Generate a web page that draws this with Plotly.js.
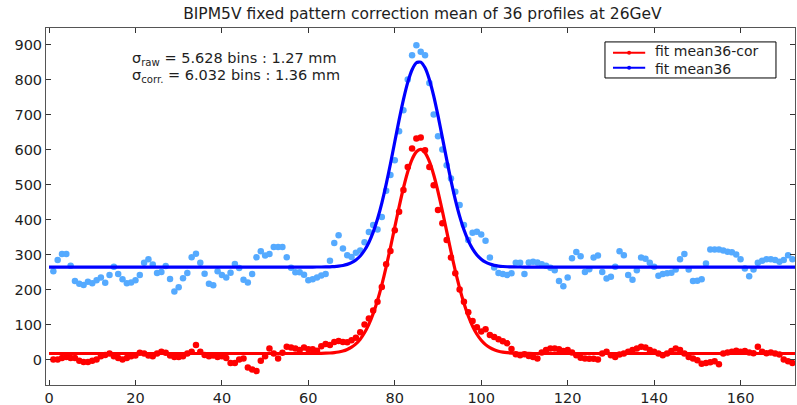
<!DOCTYPE html>
<html>
<head>
<meta charset="utf-8">
<script src="https://cdn.plot.ly/plotly-3.0.1.min.js"></script>
<style>html,body{margin:0;padding:0;background:#fff;}#chart{width:797px;height:405px;}</style>
</head>
<body>
<div id="chart"></div>
<script>
// bin numbers start at 1
const firstBin = 1;

// mean36-cor data (red dots), bins 1..172
const corData = [
  0, 0, 4, 7, 4, 4, -4, -7, -7, -4,
  0, 9, 13, 17, 9, 4, 0, 4, 9, 11,
  19, 17, 11, 9, 17, 22, 19, 11, 7, 7,
  9, 17, 22, 41, 22, 13, 9, 11, 7, 9,
  4, -10, -10, 0, 3, -23, -29, -33, -4, 9,
  31, 17, 3, 19, 36, 34, 31, 27, 34, 29,
  29, 25, 38, 44, 41, 50, 53, 50, 49, 55,
  62, 78, 100, 117, 140, 165, 207, 272, 310, 369,
  422, 484, 550, 603, 631, 634, 598, 550, 498, 427,
  389, 341, 291, 246, 200, 165, 135, 110, 92, 80,
  86, 70, 64, 58, 52, 46, 30, 15, 12, 15,
  10, 7, 3, 20, 27, 31, 31, 29, 24, 27,
  20, 12, 5, 3, 2, 2, 0, 17, 22, 12,
  7, 14, 17, 22, 27, 31, 36, 34, 27, 22,
  17, 12, 17, 24, 31, 27, 17, 7, 3, -2,
  -12, -10, -8, -5, -14, 17, 20, 22, 25, 22,
  24, 20, 18, 36, 22, 18, 20, 17, 14, 0,
  -5, -10
];

// mean36 raw data (light blue dots), bins 1..172
const rawData = [
  252, 284, 301, 301, 268, 224, 216, 213, 222, 218,
  226, 234, 219, 241, 265, 244, 229, 218, 220, 226,
  241, 276, 286, 271, 247, 250, 267, 230, 194, 206,
  232, 247, 292, 302, 276, 245, 216, 212, 252, 241,
  234, 248, 273, 261, 228, 220, 244, 292, 309, 297,
  301, 321, 321, 321, 292, 262, 249, 249, 242, 226,
  229, 234, 240, 244, 282, 333, 355, 317, 298, 293,
  305, 311, 335, 364, 384, 371, 407, 482, 527, 569,
  652, 712, 800, 869, 898, 879, 869, 790, 700, 638,
  600, 555, 517, 479, 441, 384, 341, 362, 365, 357,
  339, 291, 263, 247, 244, 241, 246, 276, 276, 244,
  277, 279, 277, 272, 268, 262, 255, 224, 209, 234,
  289, 307, 295, 250, 258, 291, 297, 250, 231, 236,
  265, 309, 298, 241, 228, 255, 291, 288, 276, 265,
  239, 244, 246, 248, 257, 286, 301, 257, 224, 225,
  229, 274, 314, 314, 314, 311, 308, 306, 300, 286,
  260, 238, 257, 276, 282, 286, 286, 284, 279, 284,
  298, 286
];

// fit curves
const fitX = [0, 58, 60, 62, 64, 65, 66, 67, 68, 69, 70, 71, 72, 73, 74, 75, 76, 77, 78, 79,
  80, 81, 82, 83, 84, 85, 86, 87, 88, 89, 90, 91, 92, 93, 94, 95, 96, 97, 98, 99,
  100, 101, 102, 103, 104, 105, 106, 107, 108, 110, 112, 114, 173];
const fitCor = [17, 17, 17, 17.2, 17.8, 18.4, 19.5, 21.3, 24.1, 28.5, 35, 44.5, 57.9, 76.2, 100.2, 130.8, 168.5, 213.2, 264.2, 319.9,
  378.2, 436.1, 489.9, 536.3, 571.8, 593.5, 600, 590.4, 565.7, 527.8, 479.7, 424.7, 366.5, 308.5, 253.5, 203.7, 160.4, 124.2, 94.9, 72.0,
  54.9, 42.4, 33.5, 27.4, 23.5, 20.9, 19.3, 18.3, 17.7, 17.2, 17, 17, 17];
const fitRaw = [264, 264, 264, 264.1, 264.4, 264.7, 265.4, 266.5, 268.4, 271.6, 276.6, 284.3, 295.7, 312, 334.3, 363.7, 401.2, 446.8, 500, 559.3,
  621.9, 684.4, 742.5, 791.7, 827.8, 847.7, 849.5, 833.2, 800, 753.1, 696.5, 634.6, 571.6, 511.4, 456.8, 409.6, 370.5, 339.5, 315.9, 298.6,
  286.3, 277.9, 272.4, 268.9, 266.8, 265.5, 264.8, 264.4, 264.2, 264, 264, 264, 264];

const legendNames = ["fit mean36-cor", "fit mean36"];
const titleText = "BIPM5V fixed pattern correction mean of 36 profiles at 26GeV";
const noteRaw = "σ<sub>raw</sub> = 5.628 bins : 1.27 mm";
const noteCor = "σ<sub>corr.</sub> = 6.032 bins : 1.36 mm";
const xTicks = [0, 20, 40, 60, 80, 100, 120, 140, 160];
const yTicks = [0, 100, 200, 300, 400, 500, 600, 700, 800, 900];

const bins = corData.map((_, i) => firstBin + i);

const FONT = "DejaVu Sans, Verdana, sans-serif";
const TXT = "#1e1e1e";
const RED = "#ff0000", BLUE = "#0000ff", LIGHTBLUE = "#55aaff";

const traces = [
  {x: bins, y: rawData, mode: "markers", type: "scatter", showlegend: false,
   marker: {color: LIGHTBLUE, size: 6.5}, hoverinfo: "skip"},
  {x: fitX, y: fitRaw, mode: "lines", type: "scatter", name: legendNames[1], showlegend: false,
   line: {color: BLUE, width: 3.2, shape: "spline", smoothing: 0.6}},
  {x: bins, y: corData, mode: "markers", type: "scatter", showlegend: false,
   marker: {color: RED, size: 6.5}, hoverinfo: "skip"},
  {x: fitX, y: fitCor, mode: "lines", type: "scatter", name: legendNames[0], showlegend: false,
   line: {color: RED, width: 3.2, shape: "spline", smoothing: 0.6}}
];

const axisCommon = {
  showline: true, linecolor: "#555", linewidth: 1, mirror: "ticks",
  ticks: "inside", ticklen: 5, tickcolor: "#333", tickwidth: 1,
  showgrid: false, zeroline: false,
  tickfont: {family: FONT, size: 14.5, color: TXT}
};

// manual legend box (paper coordinates of plot area)
const LX0 = 0.7463, LX1 = 0.9746, LY0 = 0.860, LY1 = 0.961;
const LS0 = 0.757, LS1 = 0.800, LMID = 0.7785, LT = 0.8117;
const LROW = [0.9305, 0.8885];
const legendColors = [RED, BLUE];

const shapes = [
  {type: "rect", xref: "paper", yref: "paper", x0: LX0, x1: LX1, y0: LY0, y1: LY1,
   line: {color: "#000", width: 1}, fillcolor: "#fff", layer: "above"}
];
const annotations = [
  {text: noteRaw, xref: "paper", yref: "paper", x: 0.112, y: 0.913, xanchor: "left", yanchor: "middle",
   showarrow: false, font: {family: FONT, size: 14.5, color: TXT}},
  {text: noteCor, xref: "paper", yref: "paper", x: 0.112, y: 0.866, xanchor: "left", yanchor: "middle",
   showarrow: false, font: {family: FONT, size: 14.5, color: TXT}},
  {text: legendNames.join("<br>"), xref: "paper", yref: "paper", x: LT, y: (LROW[0] + LROW[1]) / 2,
   xanchor: "left", yanchor: "middle", align: "left", showarrow: false, borderpad: 0,
   font: {family: FONT, size: 14, color: TXT}}
];
legendNames.forEach((nm, i) => {
  shapes.push({type: "line", xref: "paper", yref: "paper", x0: LS0, x1: LS1, y0: LROW[i], y1: LROW[i],
    line: {color: legendColors[i], width: 2}, layer: "above"});
  shapes.push({type: "circle", xref: "paper", yref: "paper", xsizemode: "pixel", ysizemode: "pixel",
    xanchor: LMID, yanchor: LROW[i], x0: -2, x1: 2, y0: -2, y1: 2,
    line: {color: legendColors[i], width: 0}, fillcolor: legendColors[i], layer: "above"});
});

const layout = {
  width: 797, height: 405,
  margin: {l: 46, r: 2, t: 28, b: 20, pad: 0},
  paper_bgcolor: "#fff", plot_bgcolor: "#fff",
  font: {family: FONT, size: 14, color: TXT},
  title: {text: titleText, font: {family: FONT, size: 15.5, color: TXT},
          x: 0.53, xanchor: "center", y: 0.967, yanchor: "middle"},
  xaxis: Object.assign({}, axisCommon, {range: [-0.7, 172.6], tickvals: xTicks}),
  yaxis: Object.assign({}, axisCommon, {range: [-73, 947], tickvals: yTicks}),
  showlegend: false,
  shapes: shapes,
  annotations: annotations
};

Plotly.newPlot("chart", traces, layout, {displayModeBar: false, staticPlot: true});
</script>
</body>
</html>
